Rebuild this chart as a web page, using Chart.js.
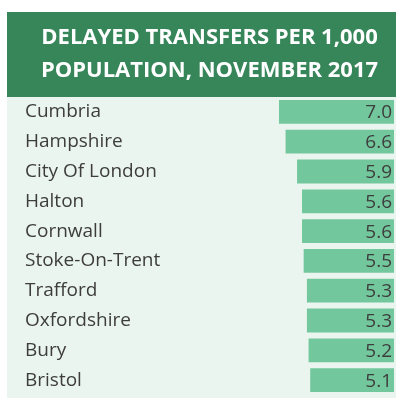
<!DOCTYPE html>
<html>
<head>
<meta charset="utf-8">
<script src="https://cdn.jsdelivr.net/npm/chart.js@4"></script>
<style>
  html, body { margin: 0; padding: 0; background: #fff; }
  #wrap { width: 406px; height: 401px; }
</style>
</head>
<body>
<div id="wrap"><canvas id="chart" width="406" height="401"></canvas></div>
<script>
const areas = ['Cumbria', 'Hampshire', 'City Of London', 'Halton', 'Cornwall',
               'Stoke-On-Trent', 'Trafford', 'Oxfordshire', 'Bury', 'Bristol'];
const rates = [7.0, 6.6, 5.9, 5.6, 5.6, 5.5, 5.3, 5.3, 5.2, 5.1];
const titleLines = ['DELAYED TRANSFERS PER 1,000', 'POPULATION, NOVEMBER 2017'];

// header box + light panel behind the rows
const backdrop = {
    id: 'backdrop',
    beforeDraw(chart) {
        const ctx = chart.ctx;
        ctx.save();
        ctx.fillStyle = '#36865a';
        ctx.fillRect(7, 12, 389, 85);
        ctx.fillStyle = '#ebf5ef';
        ctx.fillRect(7, 97, 389, 301);
        ctx.restore();
    }
};

// value written inside the right end of each bar
const valueLabels = {
    id: 'valueLabels',
    afterDatasetsDraw(chart) {
        const ctx = chart.ctx;
        const meta = chart.getDatasetMeta(0);
        ctx.save();
        ctx.font = '19px "Open Sans"';
        ctx.fillStyle = '#3d3d3d';
        ctx.textAlign = 'right';
        ctx.textBaseline = 'middle';
        meta.data.forEach((bar, i) => {
            ctx.fillText(rates[i].toFixed(1), chart.chartArea.right - 2, bar.y + 1);
        });
        ctx.restore();
    }
};

new Chart(document.getElementById('chart'), {
    type: 'bar',
    data: {
        labels: areas,
        datasets: [{
            data: rates,
            backgroundColor: '#73c79c',
            borderWidth: 0,
            barPercentage: 1,
            categoryPercentage: 0.8
        }]
    },
    options: {
        indexAxis: 'y',
        responsive: false,
        animation: false,
        layout: { padding: { top: 12, left: 25, right: 12, bottom: 6 } },
        plugins: {
            legend: { display: false },
            tooltip: { enabled: false },
            title: {
                display: true,
                text: titleLines,
                color: '#ffffff',
                font: { family: '"Open Sans"', size: 22, weight: 'bold', lineHeight: 1.5 },
                padding: { top: 9, bottom: 10 }
            }
        },
        scales: {
            x: {
                display: false,
                reverse: true,
                min: 0,
                max: 7
            },
            y: {
                grid: { display: false },
                border: { display: false },
                ticks: {
                    crossAlign: 'far',
                    color: '#3d3d3d',
                    font: { family: '"Open Sans"', size: 19 }
                },
                afterFit(axis) {
                    axis.width = 254;
                    axis.paddingTop = 0;
                    axis.paddingBottom = 0;
                }
            }
        }
    },
    plugins: [backdrop, valueLabels]
});
</script>
</body>
</html>
